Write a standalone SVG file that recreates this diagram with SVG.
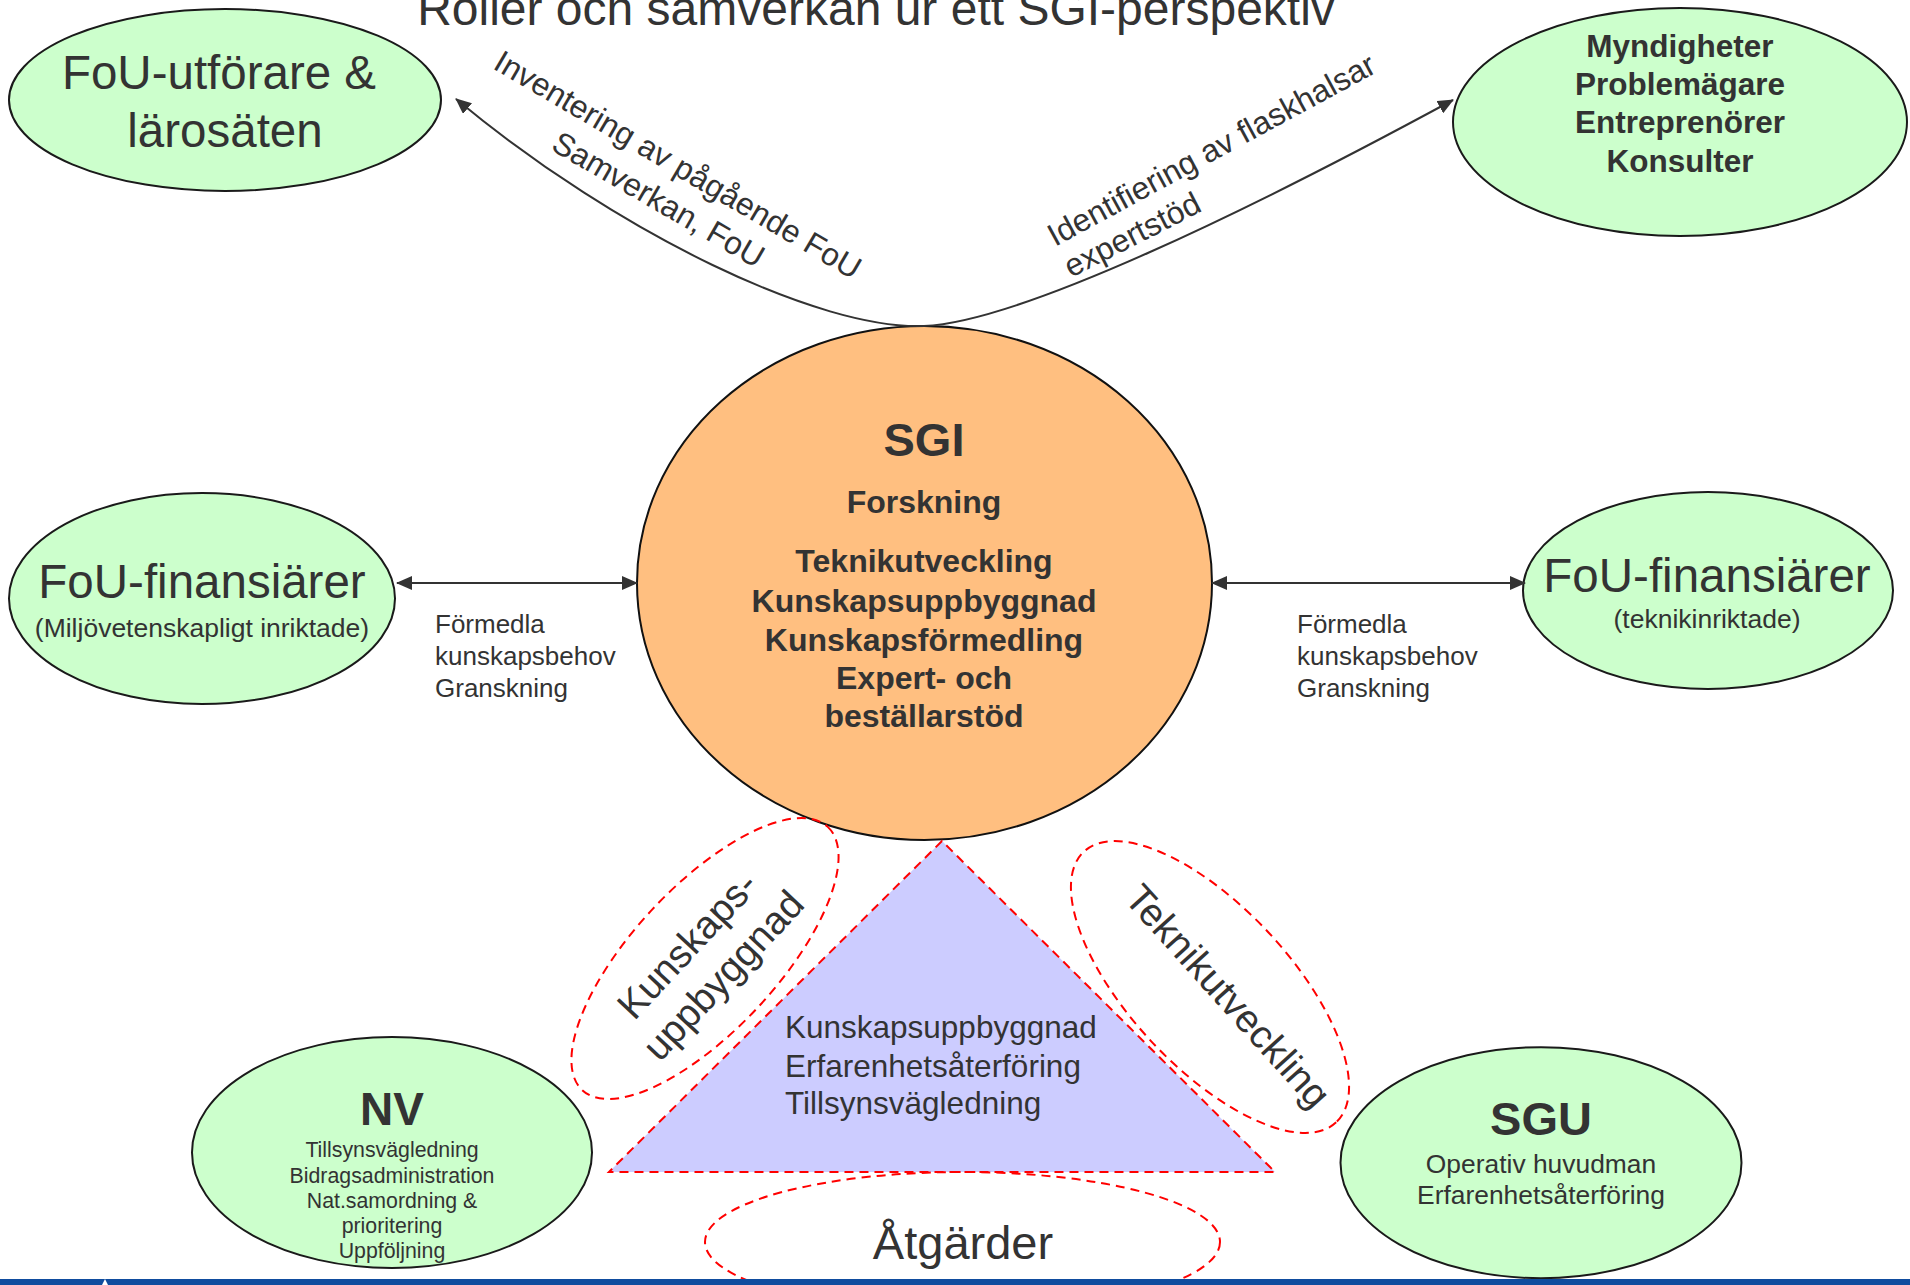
<svg xmlns="http://www.w3.org/2000/svg" width="1910" height="1285" viewBox="0 0 1910 1285">
<defs>
<style>
text{font-family:"Liberation Sans",Arial,Helvetica,sans-serif;fill:#333333;}
.green{fill:#CCFFCC;stroke:#1a1a1a;stroke-width:2;}
.orange{fill:#FFBF80;stroke:#111111;stroke-width:2;}
.dash{fill:none;stroke:#FF0000;stroke-width:2;stroke-dasharray:9 6;}
.conn{fill:none;stroke:#333333;stroke-width:2;}
.big{font-size:47.5px;}
.bold{font-weight:bold;}
.mid{text-anchor:middle;}
</style>
<marker id="arr" viewBox="0 0 16 14" markerUnits="userSpaceOnUse" markerWidth="16" markerHeight="14" refX="15" refY="7" orient="auto-start-reverse">
<path d="M0,0 L16,7 L0,14 z" fill="#333333"/>
</marker>
</defs>
<rect x="0" y="0" width="1910" height="1285" fill="#FFFFFF"/>

<text id="title" x="876" y="25" class="mid" font-size="48">Roller och samverkan ur ett SGI-perspektiv</text>

<g id="node-fou-utforare">
<ellipse class="green" cx="225" cy="100" rx="216" ry="91"/>
<text class="mid big" x="219" y="89">FoU-utförare &amp;</text>
<text class="mid big" x="225" y="147">lärosäten</text>
</g>

<g id="node-myndigheter">
<ellipse class="green" cx="1680" cy="122" rx="227" ry="114"/>
<text class="mid bold" font-size="31.5" x="1680" y="57">Myndigheter</text>
<text class="mid bold" font-size="31.5" x="1680" y="95">Problemägare</text>
<text class="mid bold" font-size="31.5" x="1680" y="133">Entreprenörer</text>
<text class="mid bold" font-size="31.5" x="1680" y="172">Konsulter</text>
</g>

<g id="node-fou-fin-left">
<ellipse class="green" cx="202" cy="598.5" rx="193" ry="105.5"/>
<text class="mid big" x="202" y="598">FoU-finansiärer</text>
<text class="mid" font-size="26.5" x="202" y="637">(Miljövetenskapligt inriktade)</text>
</g>

<g id="node-fou-fin-right">
<ellipse class="green" cx="1708" cy="590.5" rx="185" ry="98.5"/>
<text class="mid big" x="1707" y="592">FoU-finansiärer</text>
<text class="mid" font-size="26.5" x="1707" y="628">(teknikinriktade)</text>
</g>

<g id="node-sgi">
<ellipse class="orange" cx="924.5" cy="583" rx="287.5" ry="257"/>
<text class="mid bold" font-size="47" x="924" y="456">SGI</text>
<text class="mid bold" font-size="32" x="924" y="513">Forskning</text>
<text class="mid bold" font-size="32" x="924" y="572">Teknikutveckling</text>
<text class="mid bold" font-size="32" x="924" y="612">Kunskapsuppbyggnad</text>
<text class="mid bold" font-size="32" x="924" y="651">Kunskapsförmedling</text>
<text class="mid bold" font-size="32" x="924" y="689">Expert- och</text>
<text class="mid bold" font-size="32" x="924" y="727">beställarstöd</text>
</g>

<g id="node-kunskapsuppbyggnad">
<ellipse class="dash" cx="705" cy="958.5" rx="180" ry="72" transform="rotate(-47 705 958.5)"/>
<text class="mid" font-size="39" transform="translate(697 954) rotate(-47)">Kunskaps-</text>
<text class="mid" font-size="39" transform="translate(733 984.5) rotate(-47)">uppbyggnad</text>
</g>

<g id="node-teknikutveckling">
<ellipse class="dash" cx="1210" cy="987" rx="185" ry="80" transform="rotate(47 1210 987)"/>
<text class="mid" font-size="39" transform="translate(1218 1005) rotate(48)">Teknikutveckling</text>
</g>

<g id="node-triangle">
<polygon points="942,841 609,1172 1275,1172" fill="#CCCCFF" stroke="#FF0000" stroke-width="2" stroke-dasharray="9 6"/>
<text font-size="31.5" x="785" y="1038">Kunskapsuppbyggnad</text>
<text font-size="31.5" x="785" y="1077">Erfarenhetsåterföring</text>
<text font-size="31.5" x="785" y="1114">Tillsynsvägledning</text>
</g>

<g id="node-atgarder">
<ellipse class="dash" cx="962.5" cy="1242" rx="257.5" ry="70"/>
<text class="mid" font-size="47" x="963" y="1259">Åtgärder</text>
</g>

<g id="node-nv">
<ellipse class="green" cx="392" cy="1152.5" rx="200" ry="115.5" stroke-width="2.5"/>
<text class="mid bold" font-size="46" x="392" y="1125">NV</text>
<text class="mid" font-size="21.3" x="392" y="1157">Tillsynsvägledning</text>
<text class="mid" font-size="21.3" x="392" y="1183">Bidragsadministration</text>
<text class="mid" font-size="21.3" x="392" y="1208">Nat.samordning &amp;</text>
<text class="mid" font-size="21.3" x="392" y="1233">prioritering</text>
<text class="mid" font-size="21.3" x="392" y="1258">Uppföljning</text>
</g>

<g id="node-sgu">
<ellipse class="green" cx="1541" cy="1162.7" rx="200.5" ry="115.5" stroke-width="2.5"/>
<text class="mid bold" font-size="47" x="1541" y="1135">SGU</text>
<text class="mid" font-size="26.4" x="1541" y="1173">Operativ huvudman</text>
<text class="mid" font-size="26.4" x="1541" y="1204">Erfarenhetsåterföring</text>
</g>

<g id="connectors">
<path class="conn" d="M924,326 C820,330 620,235 456,99" marker-end="url(#arr)"/>
<path class="conn" d="M924,326 C1020,322 1250,210 1453,100" marker-end="url(#arr)"/>
<line class="conn" x1="397" y1="583" x2="637" y2="583" marker-start="url(#arr)" marker-end="url(#arr)"/>
<line class="conn" x1="1212" y1="583" x2="1525" y2="583" marker-start="url(#arr)" marker-end="url(#arr)"/>
<text class="mid" font-size="31.8" transform="translate(672.5 174) rotate(30.4)">Inventering av pågående FoU</text>
<text class="mid" font-size="31.8" transform="translate(653 209) rotate(30)">Samverkan, FoU</text>
<text font-size="31.8" transform="translate(1055 247) rotate(-28.5)">Identifiering av flaskhalsar</text>
<text font-size="31.8" transform="translate(1071 278) rotate(-27)">expertstöd</text>
<text font-size="26" x="435" y="633">Förmedla</text>
<text font-size="26" x="435" y="665">kunskapsbehov</text>
<text font-size="26" x="435" y="697">Granskning</text>
<text font-size="26" x="1297" y="633">Förmedla</text>
<text font-size="26" x="1297" y="665">kunskapsbehov</text>
<text font-size="26" x="1297" y="697">Granskning</text>
</g>

<rect x="0" y="1279" width="1910" height="6" fill="#0F4C9E"/>
<polygon points="105,1279 102,1285 108,1285" fill="#FFFFFF"/>
</svg>
